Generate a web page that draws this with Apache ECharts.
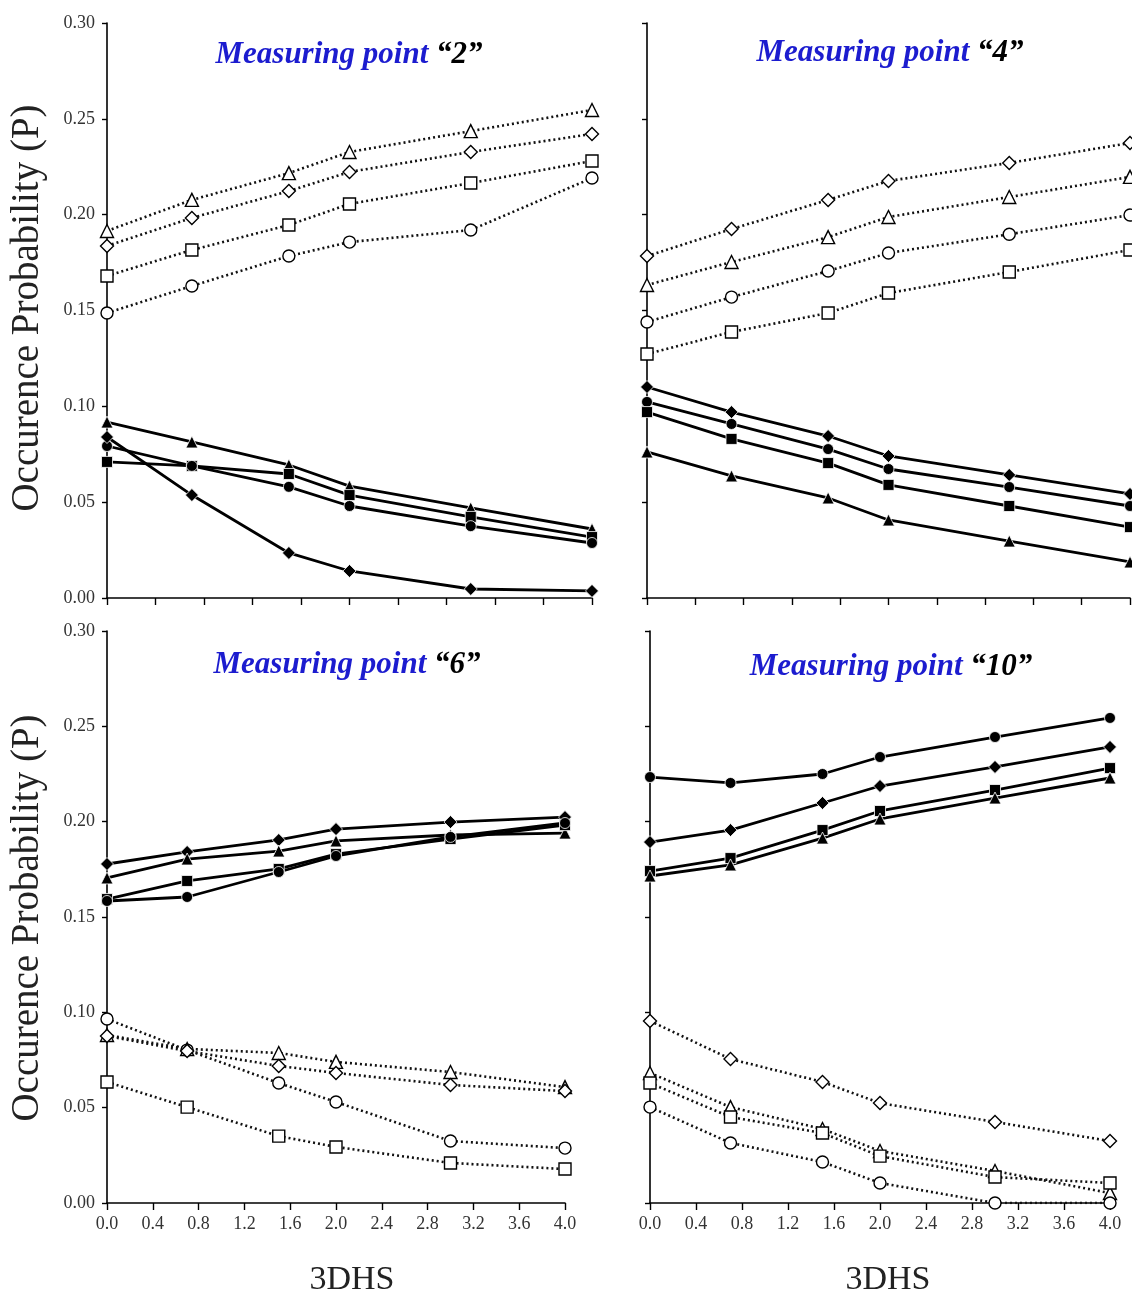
<!DOCTYPE html>
<html>
<head>
<meta charset="utf-8">
<script src="https://cdn.jsdelivr.net/npm/echarts@6/dist/echarts.min.js"></script>
<style>
html,body{margin:0;padding:0;background:#fff;}
#chart{width:1132px;height:1296px;}
</style>
</head>
<body>
<div id="chart"></div>
<script>
// ---- data ----
const xValues = [0, 0.7, 1.5, 2.0, 3.0, 4.0];
const xTickLabels = ['0.0','0.4','0.8','1.2','1.6','2.0','2.4','2.8','3.2','3.6','4.0'];
const yTickLabels = ['0.00','0.05','0.10','0.15','0.20','0.25','0.30'];
const panelNumbers = ['2', '4', '6', '10'];

// Measuring point 2
const mp2OpenTriangle  = [0.1915, 0.2077, 0.2217, 0.2327, 0.2436, 0.2546];
const mp2OpenDiamond   = [0.1837, 0.1983, 0.2123, 0.2223, 0.2327, 0.2421];
const mp2OpenSquare    = [0.1680, 0.1816, 0.1946, 0.2056, 0.2165, 0.2280];
const mp2OpenCircle    = [0.1487, 0.1628, 0.1784, 0.1857, 0.1920, 0.2191];
const mp2FilledTriangle= [0.0918, 0.0814, 0.0694, 0.0584, 0.0470, 0.0360];
const mp2FilledSquare  = [0.0710, 0.0689, 0.0647, 0.0537, 0.0423, 0.0318];
const mp2FilledCircle  = [0.0793, 0.0689, 0.0580, 0.0480, 0.0375, 0.0287];
const mp2FilledDiamond = [0.0840, 0.0537, 0.0235, 0.0141, 0.0047, 0.0037];

// Measuring point 4
const mp4OpenDiamond   = [0.1784, 0.1925, 0.2077, 0.2176, 0.2270, 0.2374];
const mp4OpenTriangle  = [0.1633, 0.1753, 0.1883, 0.1988, 0.2092, 0.2197];
const mp4OpenCircle    = [0.1440, 0.1570, 0.1706, 0.1800, 0.1898, 0.1998];
const mp4OpenSquare    = [0.1273, 0.1388, 0.1487, 0.1591, 0.1701, 0.1816];
const mp4FilledDiamond = [0.1101, 0.0970, 0.0845, 0.0741, 0.0642, 0.0543];
const mp4FilledCircle  = [0.1023, 0.0908, 0.0777, 0.0673, 0.0579, 0.0480];
const mp4FilledSquare  = [0.0970, 0.0830, 0.0704, 0.0590, 0.0480, 0.0370];
const mp4FilledTriangle= [0.0762, 0.0637, 0.0522, 0.0407, 0.0297, 0.0188];

// Measuring point 6
const mp6FilledDiamond = [0.1778, 0.1841, 0.1904, 0.1961, 0.1998, 0.2024];
const mp6FilledTriangle= [0.1705, 0.1804, 0.1846, 0.1899, 0.1930, 0.1940];
const mp6FilledSquare  = [0.1594, 0.1689, 0.1752, 0.1830, 0.1909, 0.1982];
const mp6FilledCircle  = [0.1584, 0.1605, 0.1736, 0.1820, 0.1920, 0.1993];
const mp6OpenCircle    = [0.0965, 0.0802, 0.0629, 0.0530, 0.0325, 0.0288];
const mp6OpenTriangle  = [0.0881, 0.0808, 0.0787, 0.0740, 0.0687, 0.0608];
const mp6OpenDiamond   = [0.0876, 0.0797, 0.0719, 0.0682, 0.0619, 0.0587];
const mp6OpenSquare    = [0.0635, 0.0503, 0.0351, 0.0294, 0.0210, 0.0178];

// Measuring point 10
const mp10FilledCircle  = [0.2234, 0.2203, 0.2250, 0.2339, 0.2444, 0.2544];
const mp10FilledDiamond = [0.1893, 0.1956, 0.2098, 0.2187, 0.2287, 0.2392];
const mp10FilledSquare  = [0.1741, 0.1809, 0.1956, 0.2056, 0.2166, 0.2281];
const mp10FilledTriangle= [0.1715, 0.1773, 0.1914, 0.2014, 0.2124, 0.2229];
const mp10OpenDiamond   = [0.0955, 0.0755, 0.0635, 0.0524, 0.0425, 0.0325];
const mp10OpenTriangle  = [0.0682, 0.0503, 0.0388, 0.0273, 0.0168, 0.0052];
const mp10OpenSquare    = [0.0629, 0.0451, 0.0367, 0.0246, 0.0136, 0.0105];
const mp10OpenCircle    = [0.0503, 0.0315, 0.0215, 0.0105, 0.0000, 0.0000];

// ---- build ----
const SERIF = '"Liberation Serif","Times New Roman",serif';
const grids = [
  {left: 107, top: 23, width: 485, height: 575},
  {left: 647, top: 23, width: 483, height: 575},
  {left: 107, top: 631, width: 458, height: 572},
  {left: 650, top: 631, width: 460, height: 572}
];
const showXLabels = [false, false, true, true];
const showYLabels = [true, false, true, false];

const symbolMap = {triangle: 'triangle', diamond: 'diamond', square: 'rect', circle: 'circle'};
const openSize = {triangle: 13, diamond: 13, square: 12, circle: 12};
const filledSize = {triangle: 12, diamond: 13, square: 11, circle: 11};

function mk(gi, data, shape, filled) {
  return {
    type: 'line',
    xAxisIndex: gi, yAxisIndex: gi,
    data: xValues.map((x, i) => [x, data[i]]),
    symbol: symbolMap[shape],
    symbolSize: filled ? filledSize[shape] : openSize[shape],
    showAllSymbol: true,
    animation: false,
    z: filled ? 3 : 2,
    lineStyle: filled
      ? {color: '#000', width: 2.8, type: 'solid'}
      : {color: '#111', width: 2.6, type: [2, 3]},
    itemStyle: filled
      ? {color: '#000', borderColor: '#fff', borderWidth: 0.8}
      : {color: '#fff', borderColor: '#000', borderWidth: 1.4},
    emphasis: {disabled: true}
  };
}

const series = [
  mk(0, mp2OpenTriangle, 'triangle', false),
  mk(0, mp2OpenDiamond, 'diamond', false),
  mk(0, mp2OpenSquare, 'square', false),
  mk(0, mp2OpenCircle, 'circle', false),
  mk(0, mp2FilledTriangle, 'triangle', true),
  mk(0, mp2FilledSquare, 'square', true),
  mk(0, mp2FilledCircle, 'circle', true),
  mk(0, mp2FilledDiamond, 'diamond', true),

  mk(1, mp4OpenDiamond, 'diamond', false),
  mk(1, mp4OpenTriangle, 'triangle', false),
  mk(1, mp4OpenCircle, 'circle', false),
  mk(1, mp4OpenSquare, 'square', false),
  mk(1, mp4FilledDiamond, 'diamond', true),
  mk(1, mp4FilledCircle, 'circle', true),
  mk(1, mp4FilledSquare, 'square', true),
  mk(1, mp4FilledTriangle, 'triangle', true),

  mk(2, mp6OpenCircle, 'circle', false),
  mk(2, mp6OpenTriangle, 'triangle', false),
  mk(2, mp6OpenDiamond, 'diamond', false),
  mk(2, mp6OpenSquare, 'square', false),
  mk(2, mp6FilledDiamond, 'diamond', true),
  mk(2, mp6FilledTriangle, 'triangle', true),
  mk(2, mp6FilledSquare, 'square', true),
  mk(2, mp6FilledCircle, 'circle', true),

  mk(3, mp10OpenDiamond, 'diamond', false),
  mk(3, mp10OpenTriangle, 'triangle', false),
  mk(3, mp10OpenSquare, 'square', false),
  mk(3, mp10OpenCircle, 'circle', false),
  mk(3, mp10FilledCircle, 'circle', true),
  mk(3, mp10FilledDiamond, 'diamond', true),
  mk(3, mp10FilledSquare, 'square', true),
  mk(3, mp10FilledTriangle, 'triangle', true)
];

const xAxes = grids.map((g, i) => ({
  type: 'value', gridIndex: i, min: 0, max: 4, interval: 0.4,
  axisLine: {show: true, onZero: false, lineStyle: {color: '#000', width: 1.6}},
  axisTick: {show: true, length: 7, lineStyle: {color: '#000', width: 1.4}},
  splitLine: {show: false},
  axisLabel: {
    show: showXLabels[i], margin: 12, color: '#333',
    fontFamily: SERIF, fontSize: 18,
    formatter: v => xTickLabels[Math.round(v / 0.4)]
  }
}));
const yAxes = grids.map((g, i) => ({
  type: 'value', gridIndex: i, min: 0, max: 0.3, interval: 0.05,
  axisLine: {show: true, onZero: false, lineStyle: {color: '#000', width: 1.6}},
  axisTick: {show: true, length: 5, lineStyle: {color: '#000', width: 1.4}},
  splitLine: {show: false},
  axisLabel: {
    show: showYLabels[i], margin: 12, color: '#333',
    fontFamily: SERIF, fontSize: 18,
    formatter: v => yTickLabels[Math.round(v / 0.05)]
  }
}));

const titlePos = [[349, 55], [890, 53], [347, 665], [891, 667]];
const titleRich = {
  a: {fontFamily: SERIF, fontSize: 31, fontWeight: 'bold', fontStyle: 'italic', fill: '#1c1ccf'},
  b: {fontFamily: SERIF, fontSize: 31, fontWeight: 'bold', fontStyle: 'italic', fill: '#000'}
};
const graphics = titlePos.map((p, i) => ({
  type: 'text', x: p[0], y: p[1], z: 10,
  style: {
    text: '{a|Measuring point }{b|\u201c' + panelNumbers[i] + '\u201d}',
    rich: titleRich, align: 'center', verticalAlign: 'middle'
  }
}));
[[28, 308], [28, 918]].forEach(p => graphics.push({
  type: 'text', x: p[0], y: p[1], rotation: Math.PI / 2,
  style: {
    text: 'Occurence Probability (P)', fill: '#222',
    font: '39px ' + SERIF, align: 'center', verticalAlign: 'middle'
  }
}));
[[352, 1280], [888, 1280]].forEach(p => graphics.push({
  type: 'text', x: p[0], y: p[1],
  style: {
    text: '3DHS', fill: '#222',
    font: '34px ' + SERIF, align: 'center', verticalAlign: 'middle'
  }
}));

const chart = echarts.init(document.getElementById('chart'), null, {renderer: 'canvas'});
chart.setOption({
  backgroundColor: '#fff',
  animation: false,
  grid: grids.map(g => Object.assign({containLabel: false}, g)),
  xAxis: xAxes,
  yAxis: yAxes,
  series: series,
  graphic: graphics
});
</script>
</body>
</html>
